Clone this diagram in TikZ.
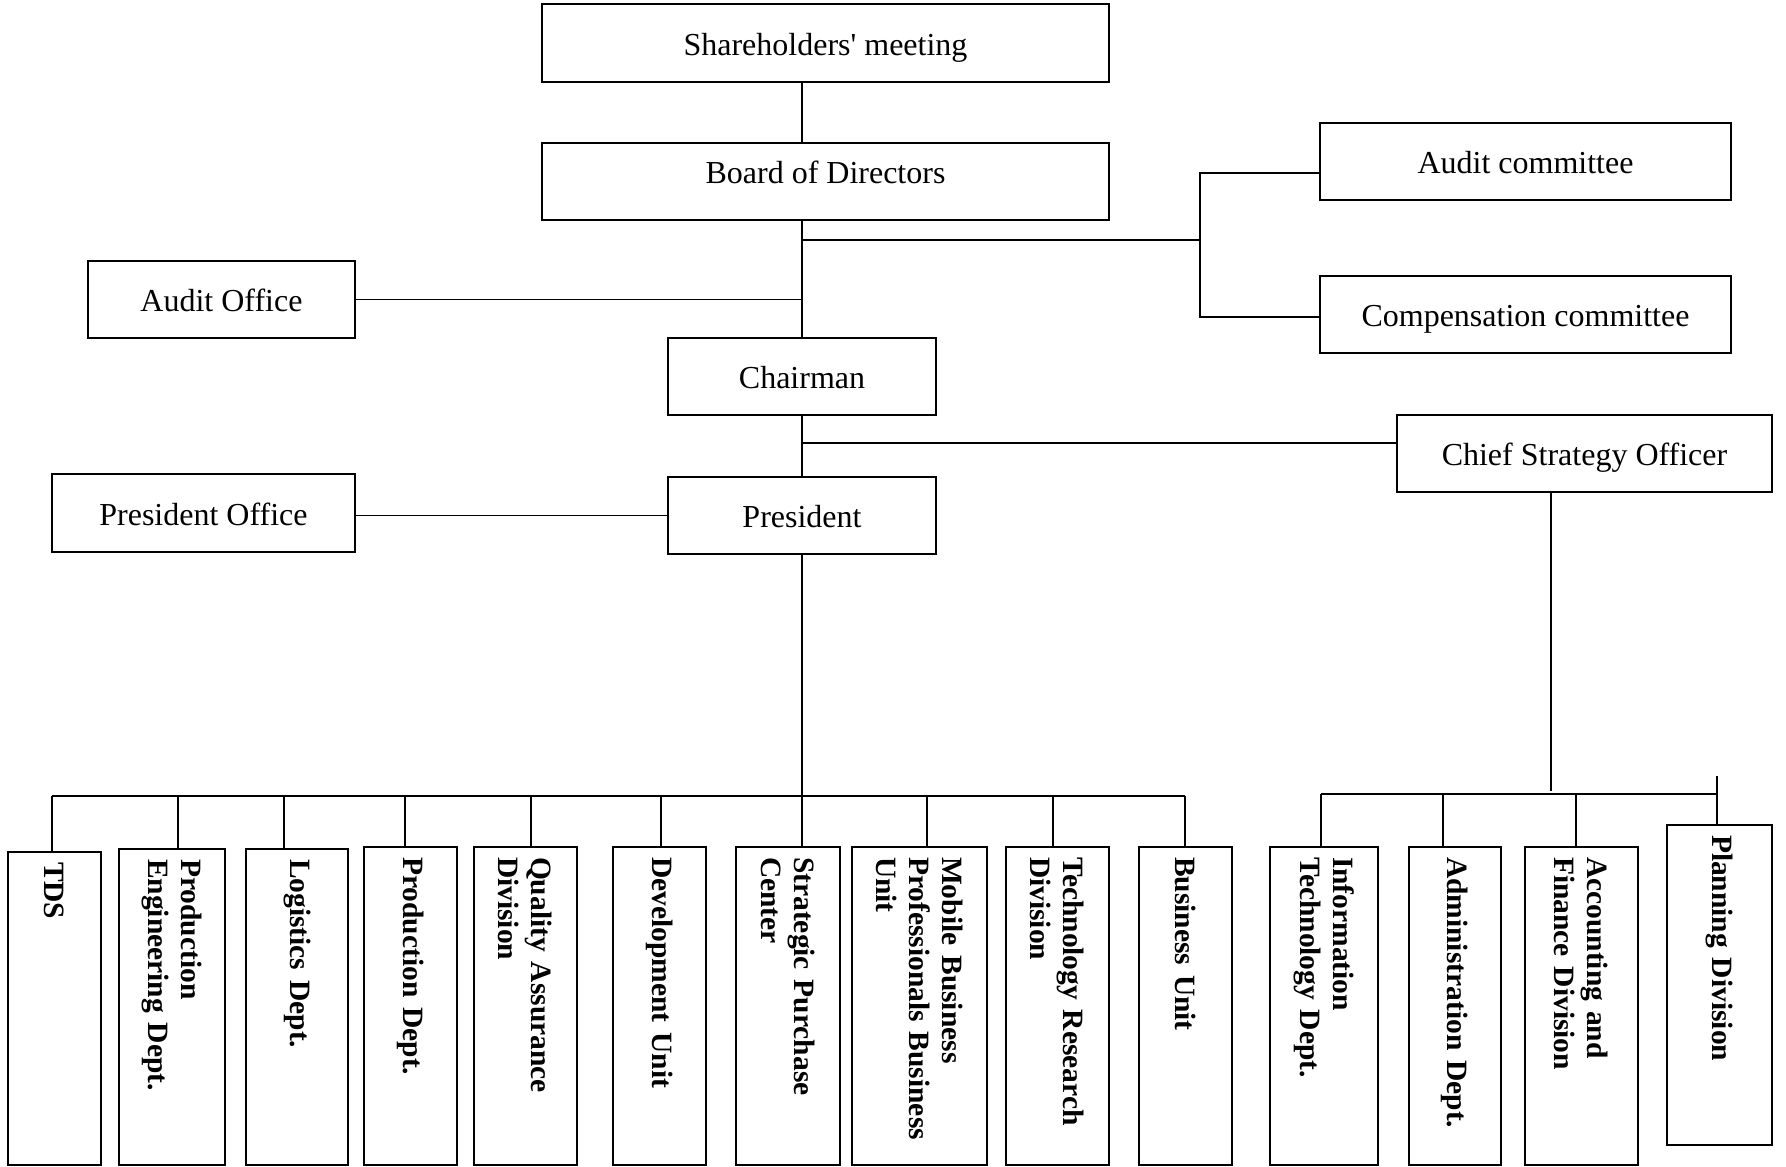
\documentclass[tikz,border=0pt]{standalone}
\usepackage{fontspec}
\setmainfont{Liberation Serif}
\begin{document}
\begin{tikzpicture}[x=1pt,y=-1pt,
  hbox/.style={draw, line width=1.8pt, inner sep=0pt, text height=26pt, text depth=2pt,
               font=\fontsize{32}{38}\selectfont},
  vbox/.style={draw, line width=1.8pt, rotate=-90, inner xsep=10pt, inner ysep=0pt,
               align=left, font=\fontsize{29.5}{33}\selectfont\bfseries},
  link/.style={line width=1.1pt}]
\useasboundingbox[fill=white] (0,0) rectangle (1786,1167);

% governance boxes
\node[hbox, minimum width=567pt, minimum height=78pt] (share) at (825.5,43) {Shareholders\textquotesingle{} meeting};
\node[hbox, minimum width=567pt, minimum height=77pt] (board) at (825.5,181.5) {\raisebox{10pt}{Board of Directors}};
\node[hbox, minimum width=411pt, minimum height=77pt] (auditc) at (1525.5,161.5) {Audit committee};
\node[hbox, minimum width=411pt, minimum height=77pt] (comp) at (1525.5,314.5) {Compensation committee};
\node[hbox, minimum width=267pt, minimum height=77pt] (auditoff) at (221.5,299.5) {Audit Office};
\node[hbox, minimum width=268pt, minimum height=77pt] (chair) at (802,376.5) {Chairman};
\node[hbox, minimum width=375pt, minimum height=77pt] (cso) at (1584.5,453.5) {Chief Strategy Officer};
\node[hbox, minimum width=303pt, minimum height=78pt] (presoff) at (203.5,513) {President Office};
\node[hbox, minimum width=268pt, minimum height=77pt] (pres) at (802,515.5) {President};

% departments under the President
\node[vbox, minimum width=313pt, minimum height=93pt, text width=293pt] (tds) at (54.5,1008.5) {TDS};
\node[vbox, minimum width=316pt, minimum height=106pt, text width=296pt] (proeng) at (172,1007) {Production\\Engineering Dept.};
\node[vbox, minimum width=316pt, minimum height=102pt, text width=296pt] (logi) at (297,1007) {Logistics Dept.};
\node[vbox, minimum width=318pt, minimum height=93pt, text width=298pt] (prod) at (410.5,1006) {Production Dept.};
\node[vbox, minimum width=318pt, minimum height=103pt, text width=298pt] (qa) at (525.5,1006) {Quality Assurance\\Division};
\node[vbox, minimum width=318pt, minimum height=93pt, text width=298pt] (dev) at (659.5,1006) {Development Unit};
\node[vbox, minimum width=318pt, minimum height=104pt, text width=298pt] (spc) at (788,1006) {Strategic Purchase\\Center};
\node[vbox, minimum width=318pt, minimum height=135pt, text width=298pt] (mob) at (919.5,1006) {Mobile Business\\Professionals Business\\Unit};
\node[vbox, minimum width=318pt, minimum height=103pt, text width=298pt] (tech) at (1057.5,1006) {Technology Research\\Division};
\node[vbox, minimum width=318pt, minimum height=93pt, text width=298pt] (bu) at (1185.5,1006) {Business Unit};

% departments under the Chief Strategy Officer
\node[vbox, minimum width=318pt, minimum height=108pt, text width=298pt] (it) at (1324,1006) {Information\\Technology Dept.};
\node[vbox, minimum width=318pt, minimum height=92pt, text width=298pt] (admin) at (1455,1006) {Administration Dept.};
\node[vbox, minimum width=318pt, minimum height=113pt, text width=298pt] (acct) at (1581.5,1006) {Accounting and\\Finance Division};
\node[vbox, minimum width=320pt, minimum height=105pt, text width=300pt] (plan) at (1719.5,985) {Planning Division};

% junction points
\coordinate (brk) at (1200,240);
\coordinate (busL) at (52,796);
\coordinate (busR) at (1185,796);
\coordinate (sProEng) at (178,796);
\coordinate (sLogi) at (284,796);
\coordinate (sProd) at (405,796);
\coordinate (sQa) at (531,796);
\coordinate (sDev) at (661,796);
\coordinate (sMob) at (927,796);
\coordinate (sTech) at (1053,796);
\coordinate (rbL) at (1321,794);
\coordinate (rbR) at (1717,794);
\coordinate (sAdmin) at (1443,794);
\coordinate (sAcct) at (1576,794);
\coordinate (planTop) at (1717,776);
\coordinate (csoEnd) at (1551,791);

% main spine
\draw[link] (share.south -| chair.north) -- (board.north -| chair.north);
\draw[link] (board.south -| chair.north) -- (chair.north);
\draw[link] (chair.south) -- (pres.north);
\draw[link] (auditoff.east) -- (auditoff.east -| chair.north);
\draw[link] (pres.west) -- (pres.west -| presoff.east);

% committees
\draw[link] (brk -| chair.north) -- (brk);
\draw[link] ([yshift=-11.5pt]auditc.west) -| (brk) |- ([yshift=-2.5pt]comp.west);

% chief strategy officer
\draw[link] ([yshift=10.5pt]cso.west) -- ([yshift=10.5pt]cso.west -| chair.south);
\draw[link] (csoEnd |- cso.south) -- (csoEnd);

% president's departments
\draw[link] (pres.south) -- (pres.south |- spc.west);
\draw[link] (busL) -- (busR);
\draw[link] (busL) -- (busL |- tds.west);
\draw[link] (sProEng) -- (sProEng |- proeng.west);
\draw[link] (sLogi) -- (sLogi |- logi.west);
\draw[link] (sProd) -- (sProd |- prod.west);
\draw[link] (sQa) -- (sQa |- qa.west);
\draw[link] (sDev) -- (sDev |- dev.west);
\draw[link] (sMob) -- (sMob |- mob.west);
\draw[link] (sTech) -- (sTech |- tech.west);
\draw[link] (busR) -- (busR |- bu.west);

% strategy departments
\draw[link] (rbL) -- (rbR);
\draw[link] (rbL) -- (rbL |- it.west);
\draw[link] (sAdmin) -- (sAdmin |- admin.west);
\draw[link] (sAcct) -- (sAcct |- acct.west);
\draw[link] (planTop) -- (planTop |- plan.west);
\end{tikzpicture}
\end{document}
